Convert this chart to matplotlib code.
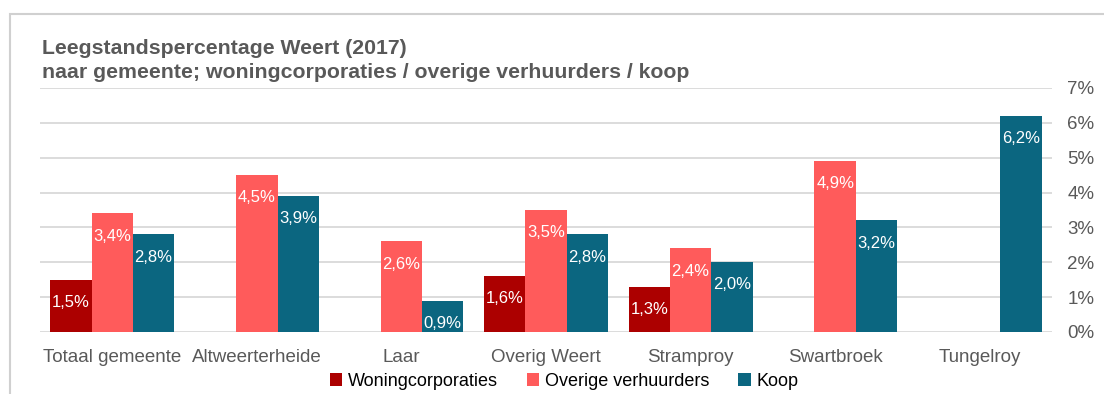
import numpy as np
import matplotlib
matplotlib.use("Agg")
from matplotlib import pyplot as plt
from matplotlib.patches import Rectangle
from matplotlib.ticker import FuncFormatter

plt.rcParams['font.family'] = ['Liberation Sans', 'DejaVu Sans']

# Leegstand per kern, in procenten
kernen = ["Totaal gemeente", "Altweerterheide", "Laar", "Overig Weert",
          "Stramproy", "Swartbroek", "Tungelroy"]
woningcorporaties = [1.5, 0, 0, 1.6, 1.3, 0, 0]
overige_verhuurders = [3.4, 4.5, 2.6, 3.5, 2.4, 4.9, 0]
koop = [2.8, 3.9, 0.9, 2.8, 2.0, 3.2, 6.2]
series_names = ["Woningcorporaties", "Overige verhuurders", "Koop"]
colors = ["#AC0000", "#FF5B5B", "#0B6680"]

fig = plt.figure(figsize=(11.04, 3.94), dpi=100)
ax = fig.add_axes([40 / 1104, 1 - 332 / 394, 1012 / 1104, 244 / 394])

# frame around the chart area
fig.patches.append(Rectangle((10 / 1104, -0.2), 1.2, 1.2 - 14 / 394,
                             transform=fig.transFigure, fill=False,
                             edgecolor="#D0D0D0", linewidth=1.5))

x = np.arange(len(kernen))
w = 1 / 3.5
for i, (vals, name, c) in enumerate(zip([woningcorporaties, overige_verhuurders, koop],
                                        series_names, colors)):
    pos = x + (i - 1) * w
    bars = ax.bar(pos, vals, width=w, color=c, label=name, zorder=3)
    for b, v in zip(bars, vals):
        if v > 0:
            ax.text(b.get_x() + b.get_width() / 2, v - 0.65,
                    f"{v:.1f}%".replace(".", ","), ha="center", va="center",
                    color="white", fontsize=12, zorder=4)

ax.set_xlim(-0.5, len(kernen) - 0.5)
ax.set_ylim(0, 7)
ax.set_yticks(range(0, 8))
ax.yaxis.set_major_formatter(FuncFormatter(lambda v, p: f"{int(v)}%"))
ax.yaxis.tick_right()
ax.grid(axis="y", color="#D9D9D9", linewidth=1.3, zorder=0)
for s in ax.spines.values():
    s.set_visible(False)
ax.tick_params(axis="y", length=0, pad=11, labelsize=13.5, labelcolor="#595959")
ax.set_xticks(x)
ax.set_xticklabels(kernen)
ax.tick_params(axis="x", length=0, pad=12, labelsize=13.5, labelcolor="#595959")

fig.text(42 / 1104, 1 - 49 / 394, "Leegstandspercentage Weert (2017)",
         fontsize=15.3, fontweight="bold", color="#595959", va="center")
fig.text(42 / 1104, 1 - 73 / 394,
         "naar gemeente; woningcorporaties / overige verhuurders / koop",
         fontsize=15.3, fontweight="bold", color="#595959", va="center")

fig.legend(loc="center", bbox_to_anchor=(564 / 1104, 1 - 381 / 394), ncol=3,
           frameon=False, fontsize=13, handlelength=0.7, handleheight=0.7,
           handletextpad=0.3, columnspacing=1.6, borderpad=0)

fig.savefig("out.png", dpi=100)
